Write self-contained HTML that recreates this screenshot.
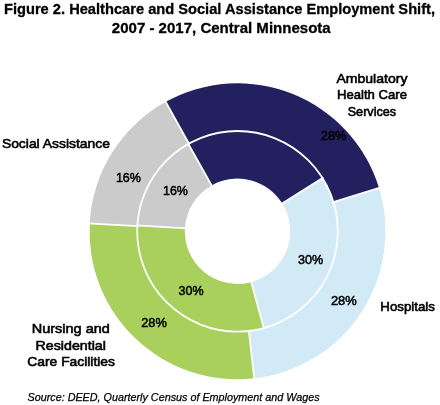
<!DOCTYPE html>
<html><head><meta charset="utf-8"><style>
html,body{margin:0;padding:0;background:#fff;}
body{width:440px;height:405px;overflow:hidden;}
svg{display:block;will-change:transform;font-family:"Liberation Sans",sans-serif;}
</style></head><body>
<svg width="440" height="405" viewBox="0 0 440 405">
<rect width="440" height="405" fill="#fff"/>
<path d="M165.75,101.86 A148.0,148.0 0 0 1 379.03,188.03 L333.42,201.98 A100.3,100.3 0 0 0 188.87,143.58 Z" fill="#23205f"/>
<path d="M188.26,143.92 A100.3,100.3 0 0 1 322.56,178.15 L282.19,203.37 A52.7,52.7 0 0 0 211.63,185.39 Z" fill="#23205f"/>
<path d="M379.03,188.03 A148.0,148.0 0 0 1 254.25,378.35 L248.85,330.96 A100.3,100.3 0 0 0 333.42,201.98 Z" fill="#d2eaf5"/>
<path d="M322.56,178.15 A100.3,100.3 0 0 1 263.80,328.09 L251.32,282.16 A52.7,52.7 0 0 0 282.19,203.37 Z" fill="#d2eaf5"/>
<path d="M254.25,378.35 A148.0,148.0 0 0 1 89.70,223.55 L137.34,226.05 A100.3,100.3 0 0 0 248.85,330.96 Z" fill="#a9cf5c"/>
<path d="M263.80,328.09 A100.3,100.3 0 0 1 137.37,225.53 L184.89,228.27 A52.7,52.7 0 0 0 251.32,282.16 Z" fill="#a9cf5c"/>
<path d="M89.70,223.55 A148.0,148.0 0 0 1 165.75,101.86 L188.87,143.58 A100.3,100.3 0 0 0 137.34,226.05 Z" fill="#cbcbcb"/>
<path d="M137.37,225.53 A100.3,100.3 0 0 1 188.26,143.92 L211.63,185.39 A52.7,52.7 0 0 0 184.89,228.27 Z" fill="#cbcbcb"/>
<line x1="189.36" y1="144.45" x2="164.78" y2="100.11" stroke="#fff" stroke-width="1.8"/>
<line x1="332.46" y1="202.27" x2="380.95" y2="187.44" stroke="#fff" stroke-width="1.8"/>
<line x1="248.74" y1="329.96" x2="254.48" y2="380.34" stroke="#fff" stroke-width="1.8"/>
<line x1="138.34" y1="226.10" x2="87.71" y2="223.45" stroke="#fff" stroke-width="1.8"/>
<line x1="212.61" y1="187.13" x2="187.77" y2="143.05" stroke="#fff" stroke-width="1.8"/>
<line x1="280.50" y1="204.43" x2="323.41" y2="177.62" stroke="#fff" stroke-width="1.8"/>
<line x1="250.79" y1="280.23" x2="264.06" y2="329.06" stroke="#fff" stroke-width="1.8"/>
<line x1="186.88" y1="228.38" x2="136.37" y2="225.47" stroke="#fff" stroke-width="1.8"/>
<circle cx="237.5" cy="231.3" r="100.3" fill="none" stroke="#fff" stroke-width="1.8"/>
<text x="4.0" y="14.1" font-size="15.4" font-weight="bold" font-style="normal" textLength="431.0" lengthAdjust="spacingAndGlyphs" fill="#000" stroke="#000" stroke-width="0.3">Figure 2. Healthcare and Social Assistance Employment Shift,</text>
<text x="111.8" y="33.0" font-size="15.4" font-weight="bold" font-style="normal" textLength="218.9" lengthAdjust="spacingAndGlyphs" fill="#000" stroke="#000" stroke-width="0.3">2007 - 2017, Central Minnesota</text>
<text x="336.4" y="82.7" font-size="13.5" font-weight="normal" font-style="normal" textLength="71.1" lengthAdjust="spacingAndGlyphs" fill="#000" stroke="#000" stroke-width="0.6">Ambulatory</text>
<text x="337.0" y="99.1" font-size="13.5" font-weight="normal" font-style="normal" textLength="70.0" lengthAdjust="spacingAndGlyphs" fill="#000" stroke="#000" stroke-width="0.6">Health Care</text>
<text x="347.7" y="115.7" font-size="13.5" font-weight="normal" font-style="normal" textLength="48.4" lengthAdjust="spacingAndGlyphs" fill="#000" stroke="#000" stroke-width="0.6">Services</text>
<text x="1.9" y="147.7" font-size="13.5" font-weight="normal" font-style="normal" textLength="108.0" lengthAdjust="spacingAndGlyphs" fill="#000" stroke="#000" stroke-width="0.6">Social Assistance</text>
<text x="380.3" y="310.7" font-size="13.5" font-weight="normal" font-style="normal" textLength="54.6" lengthAdjust="spacingAndGlyphs" fill="#000" stroke="#000" stroke-width="0.6">Hospitals</text>
<text x="31.8" y="333.2" font-size="13.5" font-weight="normal" font-style="normal" textLength="78.0" lengthAdjust="spacingAndGlyphs" fill="#000" stroke="#000" stroke-width="0.6">Nursing and</text>
<text x="35.5" y="349.5" font-size="13.5" font-weight="normal" font-style="normal" textLength="70.4" lengthAdjust="spacingAndGlyphs" fill="#000" stroke="#000" stroke-width="0.6">Residential</text>
<text x="27.3" y="365.5" font-size="13.5" font-weight="normal" font-style="normal" textLength="87.7" lengthAdjust="spacingAndGlyphs" fill="#000" stroke="#000" stroke-width="0.6">Care Facilities</text>
<text x="320.8" y="140.1" font-size="12.9" font-weight="normal" font-style="normal" textLength="25.6" lengthAdjust="spacingAndGlyphs" fill="#000" stroke="#000" stroke-width="0.5">28%</text>
<text x="115.9" y="181.8" font-size="12.9" font-weight="normal" font-style="normal" textLength="25.0" lengthAdjust="spacingAndGlyphs" fill="#000" stroke="#000" stroke-width="0.5">16%</text>
<text x="163.0" y="194.8" font-size="12.9" font-weight="normal" font-style="normal" textLength="24.9" lengthAdjust="spacingAndGlyphs" fill="#000" stroke="#000" stroke-width="0.5">16%</text>
<text x="298.0" y="264.1" font-size="12.9" font-weight="normal" font-style="normal" textLength="25.2" lengthAdjust="spacingAndGlyphs" fill="#000" stroke="#000" stroke-width="0.5">30%</text>
<text x="330.9" y="304.8" font-size="12.9" font-weight="normal" font-style="normal" textLength="25.9" lengthAdjust="spacingAndGlyphs" fill="#000" stroke="#000" stroke-width="0.5">28%</text>
<text x="178.6" y="294.8" font-size="12.9" font-weight="normal" font-style="normal" textLength="25.0" lengthAdjust="spacingAndGlyphs" fill="#000" stroke="#000" stroke-width="0.5">30%</text>
<text x="141.2" y="327.1" font-size="12.9" font-weight="normal" font-style="normal" textLength="25.6" lengthAdjust="spacingAndGlyphs" fill="#000" stroke="#000" stroke-width="0.5">28%</text>
<text x="27.5" y="400.7" font-size="11" font-weight="normal" font-style="italic" textLength="292.1" lengthAdjust="spacingAndGlyphs" fill="#000" stroke="#000" stroke-width="0.25">Source: DEED, Quarterly Census of Employment and Wages</text>
</svg>
</body></html>
